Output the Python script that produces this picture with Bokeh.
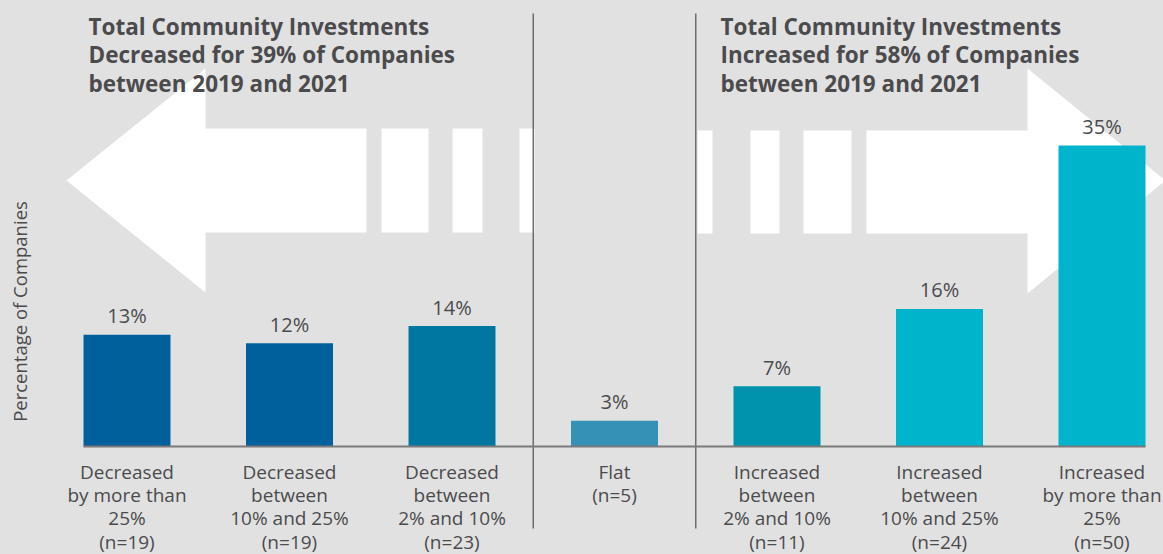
import math
from bokeh.plotting import figure
from bokeh.models import Range1d, ColumnDataSource
from bokeh.core.properties import value
from bokeh.embed import file_html
from bokeh.resources import INLINE

# ---------------- data ----------------
descriptions = [
    "Decreased\nby more than\n25%",
    "Decreased\nbetween\n10% and 25%",
    "Decreased\nbetween\n2% and 10%",
    "Flat",
    "Increased\nbetween\n2% and 10%",
    "Increased\nbetween\n10% and 25%",
    "Increased\nby more than\n25%",
]
counts = [19, 19, 23, 5, 11, 24, 50]
percentages = [13, 12, 14, 3, 7, 16, 35]
bar_colors = ["#00609c", "#00609c", "#0077a1", "#3591b6", "#0093ae", "#00b5cb", "#00b5cb"]
title_left = "Total Community Investments\nDecreased for 39% of Companies\nbetween 2019 and 2021"
title_right = "Total Community Investments\nIncreased for 58% of Companies\nbetween 2019 and 2021"
y_title = "Percentage of Companies"

BG = "#e1e1e1"
TXT = "#4b4b4d"

# ------------- layout helpers (page pixel -> data) -------------
STEP = 162.5      # px per category
X0 = 126.5        # page x of first category centre
S = 8.6           # px per percentage point
BASE = 446        # page y of baseline


def X(px):
    return (px - X0) / STEP


def Y(py):
    return (BASE - py) / S


W, H = 1163, 554
p = figure(width=W, height=H, output_backend="svg", toolbar_location=None,
           x_range=Range1d(X(0), X(W)), y_range=Range1d(Y(H), Y(0)),
           x_axis_type=None, y_axis_type=None, min_border=0,
           background_fill_color=BG, border_fill_color=BG, outline_line_color=None)
p.grid.visible = False

try:
    from bokeh.models import GlobalInlineStyleSheet
    p.stylesheets = [GlobalInlineStyleSheet(
        css="html, body { background-color: #e1e1e1; margin: 0; padding: 0; overflow: hidden; }")]
except Exception:
    pass

# ------------- decorative arrows -------------
shaft_l = (128, 232)
left_arrow_x = [66, 205, 205, 366, 366, 205, 205]
left_arrow_y = [180, 68, shaft_l[0], shaft_l[0], shaft_l[1], shaft_l[1], 292]
left_dashes = [(381, 428), (452, 482), (519, 534)]
shaft_r = (130, 233)
right_arrow_x = [866, 1027, 1027, 1165, 1027, 1027, 866]
right_arrow_y = [shaft_r[0], shaft_r[0], 68, 180, 293, shaft_r[1], shaft_r[1]]
right_dashes = [(697, 712), (750, 779), (803, 851)]

xs = [[X(v) for v in left_arrow_x], [X(v) for v in right_arrow_x]]
ys = [[Y(v) for v in left_arrow_y], [Y(v) for v in right_arrow_y]]
for (a, b) in left_dashes:
    xs.append([X(a), X(b), X(b), X(a)])
    ys.append([Y(shaft_l[0])] * 2 + [Y(shaft_l[1])] * 2)
for (a, b) in right_dashes:
    xs.append([X(a), X(b), X(b), X(a)])
    ys.append([Y(shaft_r[0])] * 2 + [Y(shaft_r[1])] * 2)
p.patches(xs=xs, ys=ys, fill_color="white", line_color=None)

# ------------- dividers and baseline -------------
n = len(percentages)
p.segment(x0=[2.5, 3.5], x1=[2.5, 3.5], y0=[Y(528)] * 2, y1=[Y(13)] * 2,
          line_color="#6e6e6e", line_width=1.5)

# ------------- bars -------------
idx = list(range(n))
labels = [f"{d}\n(n={c})" for d, c in zip(descriptions, counts)]
GAP = 19 / S
src = ColumnDataSource(dict(x=idx, top=percentages, color=bar_colors,
                            lab_y=[v + GAP for v in percentages],
                            lab=[f"{v}%" for v in percentages], cat=labels))
BW = 87 / STEP
p.vbar(x="x", top="top", bottom=0, width=BW, fill_color="color", line_color=None, source=src)
p.segment(x0=[-BW / 2], x1=[n - 1 + BW / 2], y0=[0], y1=[0], line_color="#7a7a7a", line_width=2)

p.text(x="x", y="lab_y", text="lab", source=src,
       text_font=value("Open Sans"), text_font_size="20px", text_color=TXT,
       text_align="center", text_baseline="alphabetic")

p.text(x="x", y=Y(458), text="cat", source=src,
       text_font=value("Open Sans"), text_font_size="19px", text_color=TXT,
       text_align="center", text_baseline="top", text_line_height=0.9)

# ------------- titles -------------
p.text(x=[X(88), X(720)], y=[Y(10), Y(10)], text=[title_left, title_right],
       text_font=value("Open Sans"), text_font_size="22.5px", text_font_style="bold",
       text_color=TXT, text_align="left", text_baseline="top", text_line_height=0.92)

p.text(x=[X(18.5)], y=[Y(311)], text=[y_title], angle=math.pi / 2,
       text_font=value("Open Sans"), text_font_size="18.5px", text_color=TXT,
       text_align="center", text_baseline="middle")

open("out.html", "w").write(file_html(p, INLINE))
